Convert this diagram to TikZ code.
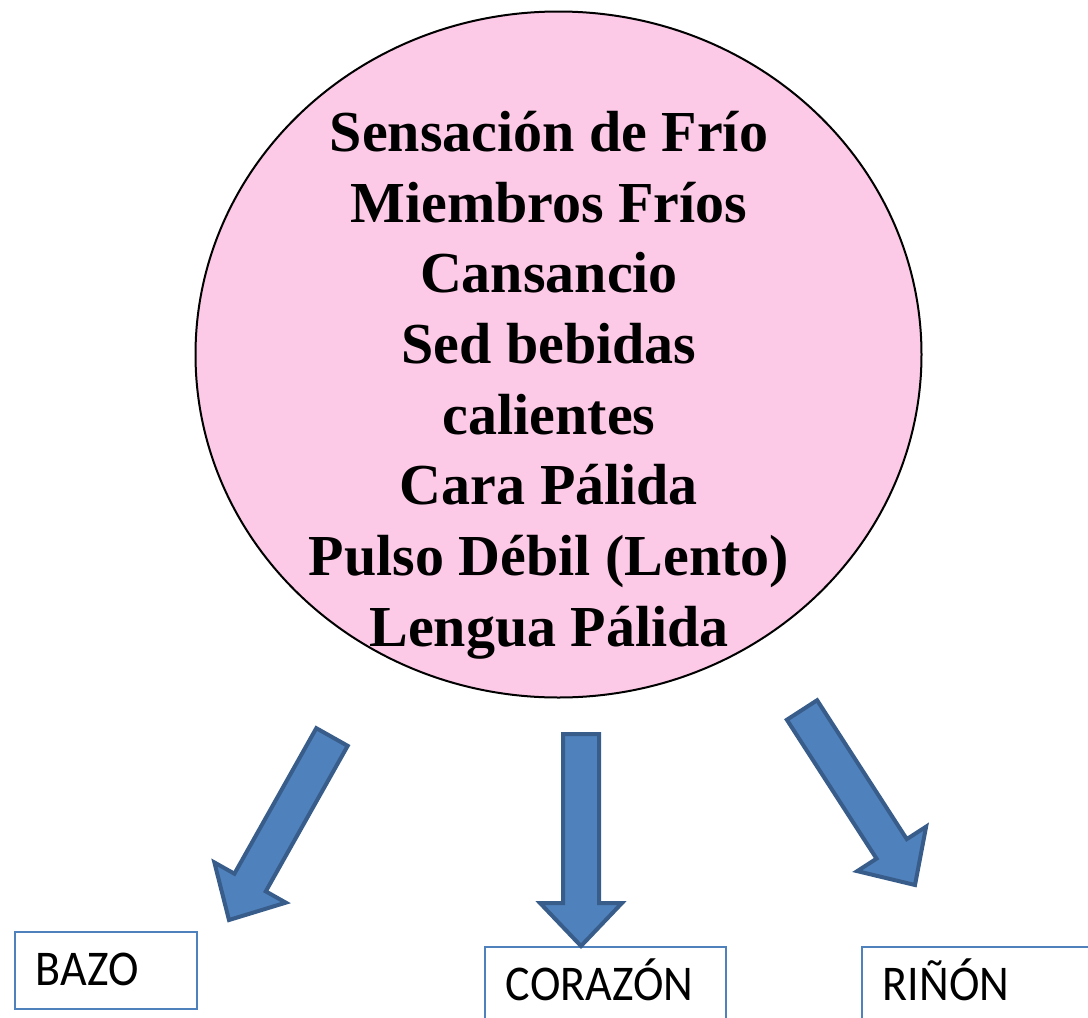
\documentclass[tikz,border=0pt]{standalone}
\usepackage{fontspec}
\setmainfont{Liberation Serif}
\newfontfamily\organofont[FakeStretch=0.92]{Carlito}
\usetikzlibrary{shapes.geometric,calc}
\definecolor{rosa}{RGB}{252,201,230}
\definecolor{azul}{RGB}{79,129,189}
\definecolor{azuloscuro}{RGB}{56,93,138}

% block arrow from #1 to #2
\newcommand{\flecha}[2]{%
  \coordinate (#2-base) at ($(#2)!43pt!(#1)$);
  \draw[bloque] ($(#1)!18pt!90:(#2)$) -- ($(#2-base)!18pt!90:(#2)$) -- ($(#2-base)!41pt!90:(#2)$)
    -- (#2) -- ($(#2-base)!41pt!-90:(#2)$) -- ($(#2-base)!18pt!-90:(#2)$) -- ($(#1)!18pt!-90:(#2)$) -- cycle;}

\begin{document}
\begin{tikzpicture}[x=1pt, y=1pt,
                    sintoma/.style={ellipse, draw=black, line width=2pt, fill=rosa, minimum width=726pt, minimum height=686pt},
                    lista/.style={align=center, font=\bfseries\fontsize{58}{70.7}\selectfont},
                    organo/.style={rectangle, draw=azul, line width=1.8pt, anchor=north west, minimum height=77pt,
                                   inner xsep=21pt, align=left, text height=33pt, text depth=2pt, font=\organofont\fontsize{50}{54}\selectfont},
                    bloque/.style={fill=azul, draw=azuloscuro, line width=4pt, line join=miter},]
    \useasboundingbox (0,0) rectangle (1088,-1018);
    \clip (0,0) rectangle (1088,-1018);
    % nodes
    \node[sintoma]   (circulo)   at (558.5,-354.5)   {};
    \node[lista]     (texto)     at (549,-385)       {Sensación de Frío\\Miembros Fríos\\Cansancio\\Sed bebidas\\calientes\\Cara Pálida\\Pulso Débil (Lento)\\Lengua Pálida};
    \node[organo, minimum width=182pt, text width=140pt]   (bazo)      at (14,-931)    {BAZO};
    \node[organo, minimum width=241pt, text width=199pt]   (corazon)   at (484,-946)   {CORAZÓN};
    \node[organo, minimum width=240pt, text width=198pt]   (rinon)     at (861,-946)   {RIÑÓN};
    % arrows
    \coordinate (salida1) at (332,-737);
    \coordinate (llegada1) at (229,-920);
    \coordinate (salida2) at (581,-734);
    \coordinate (llegada2) at (581,-946);
    \coordinate (salida3) at (802,-710);
    \coordinate (llegada3) at (915,-885);
    \flecha{salida1}{llegada1}
    \flecha{salida2}{llegada2}
    \flecha{salida3}{llegada3}
\end{tikzpicture}
\end{document}
